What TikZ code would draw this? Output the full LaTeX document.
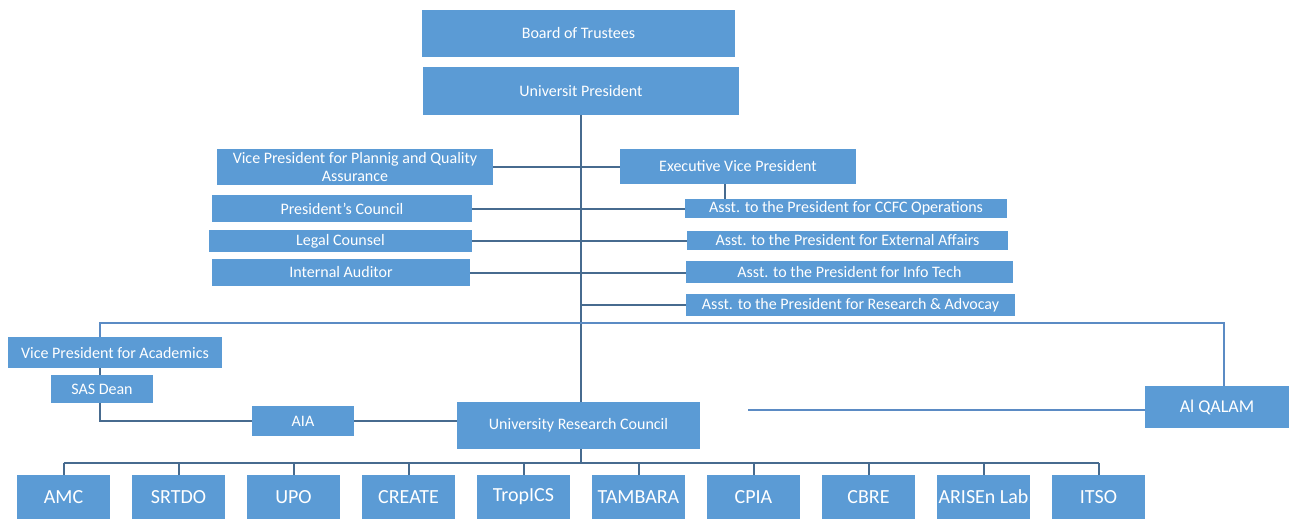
\documentclass[tikz,border=0pt]{standalone}
\usepackage{fontspec}
\setmainfont{Carlito}
\usepackage{tikz}
\definecolor{boxblue}{HTML}{5B9BD5}
\definecolor{linedark}{HTML}{476B8F}
\definecolor{linelight}{HTML}{5B8BC4}

\begin{document}
\begin{tikzpicture}[x=1pt, y=-1pt,
  unit/.style={fill=boxblue, text=white, align=center, inner sep=0pt,
               font=\fontsize{16}{18}\selectfont},
  small/.style={unit, font=\fontsize{20}{22}\selectfont,
                minimum width=93pt, minimum height=44pt},
  link/.style={draw=linedark, line width=2pt},
  thin/.style={draw=linelight, line width=1.6pt}]
  \useasboundingbox (0,0) rectangle (1289,519);
  \node[unit, minimum width=313pt, minimum height=47pt] (board) at (578.5,33.5) {Board of Trustees};
  \node[unit, minimum width=316pt, minimum height=48pt] (pres) at (581,91) {Universit President};
  \node[unit, minimum width=276pt, minimum height=36pt] (vpqa) at (355,167) {Vice President for Plannig and Quality\\Assurance};
  \node[unit, minimum width=236pt, minimum height=35pt] (evp) at (738,166.5) {Executive Vice President};
  \node[unit, minimum width=260pt, minimum height=27pt] (council) at (342,208.5) {President's Council};
  \node[unit, minimum width=263pt, minimum height=22pt] (legal) at (340.5,241) {Legal Counsel};
  \node[unit, minimum width=258pt, minimum height=27pt] (auditor) at (341,272.5) {Internal Auditor};
  \node[unit, minimum width=322pt, minimum height=19pt] (ccfc) at (846,208.5) {Asst. to the President for CCFC Operations};
  \node[unit, minimum width=321pt, minimum height=19pt] (extaff) at (847.5,240.5) {Asst. to the President for External Affairs};
  \node[unit, minimum width=327pt, minimum height=22pt] (infotech) at (849.5,272) {Asst. to the President for Info Tech};
  \node[unit, minimum width=329pt, minimum height=22pt] (advocacy) at (850.5,305) {Asst. to the President for Research \& Advocay};
  \node[unit, minimum width=214pt, minimum height=31pt] (vpacad) at (115,352.5) {Vice President for Academics};
  \node[unit, minimum width=102pt, minimum height=28pt] (sasdean) at (102,389) {SAS Dean};
  \node[unit, minimum width=102pt, minimum height=30pt] (aia) at (303,421) {AIA};
  \node[unit, minimum width=243pt, minimum height=47pt] (urc) at (578.5,425.5) {University Research Council};
  \node[unit, minimum width=144pt, minimum height=42pt, font=\fontsize{18}{20}\selectfont] (alqalam) at (1217,407) {Al QALAM};
  \foreach \lbl [count=\i from 0] in {AMC, SRTDO, UPO, CREATE, TropICS, TAMBARA, CPIA, CBRE, ARISEn Lab, ITSO}
    \node[small] (c\i) at ({63.5+115*\i},497) {\lbl};
  \coordinate (busL) at (100,323);
  \coordinate (busR) at (1224,323);
  \coordinate (qend) at (748,410);
  \coordinate (rbus) at (581,463);
  % president spine and staff offices
  \draw[link] (pres.south) -- (pres.south |- urc.north);
  \draw[link] (vpqa.east) -- (vpqa.east -| evp.west);
  \draw[link] ([xshift=-13pt]evp.south) -- ([xshift=-13pt]evp.south |- ccfc.north);
  \draw[link] (council.east) -- (council.east -| ccfc.west);
  \draw[link] (legal.east) -- (legal.east -| extaff.west);
  \draw[link] (auditor.east) -- (auditor.east -| infotech.west);
  \draw[link] (pres.south |- advocacy.west) -- (advocacy.west);
  % academics branch
  \draw[thin] (busL |- vpacad.north) -- (busL) -- (busR) -- (busR |- alqalam.north);
  \draw[link] (busL |- vpacad.south) -- (busL |- sasdean.north);
  \draw[link] (busL |- sasdean.south) |- (aia.west);
  \draw[link] (aia.east) -- (aia.east -| urc.west);
  \draw[thin] (alqalam.west |- qend) -- (qend);
  % research centres
  \draw[link] (pres.south |- urc.south) -- (rbus);
  \draw[link] (c0.north |- rbus) -- (c9.north |- rbus);
  \foreach \i in {0,...,9}
    \draw[link] (c\i.north |- rbus) -- (c\i.north);
\end{tikzpicture}
\end{document}
